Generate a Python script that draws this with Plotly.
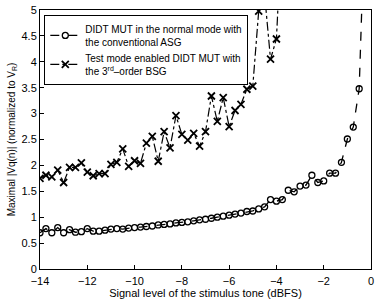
import plotly.graph_objects as go

# Signal level (dBFS)
x_asg = [-14.0, -13.75, -13.5, -13.25, -13.0, -12.75, -12.5, -12.25, -12.0, -11.75,
         -11.5, -11.25, -11.0, -10.75, -10.5, -10.25, -10.0, -9.75, -9.5, -9.25,
         -9.0, -8.75, -8.5, -8.25, -8.0, -7.75, -7.5, -7.25, -7.0, -6.75,
         -6.5, -6.25, -6.0, -5.75, -5.5, -5.25, -5.0, -4.75, -4.5, -4.25,
         -4.0, -3.75, -3.5, -3.25, -3.0, -2.75, -2.5, -2.25, -2.0, -1.75,
         -1.5, -1.25, -1.0, -0.75, -0.5, -0.25]
y_asg = [0.70, 0.78, 0.70, 0.80, 0.70, 0.76, 0.71, 0.72, 0.78, 0.73,
         0.73, 0.75, 0.77, 0.78, 0.77, 0.79, 0.80, 0.81, 0.82, 0.83,
         0.85, 0.86, 0.87, 0.89, 0.90, 0.91, 0.93, 0.95, 0.96, 0.98,
         1.00, 1.02, 1.04, 1.06, 1.08, 1.11, 1.12, 1.16, 1.20, 1.34,
         1.31, 1.34, 1.52, 1.49, 1.60, 1.62, 1.81, 1.67, 1.70, 1.85,
         1.85, 2.06, 2.51, 2.74, 3.48, 7.00]

x_bsg = [-14.0, -13.75, -13.5, -13.25, -13.0, -12.75, -12.5, -12.25, -12.0, -11.75,
         -11.5, -11.25, -11.0, -10.75, -10.5, -10.25, -10.0, -9.75, -9.5, -9.25,
         -9.0, -8.75, -8.5, -8.25, -8.0, -7.75, -7.5, -7.25, -7.0, -6.75,
         -6.5, -6.25, -6.0, -5.75, -5.5, -5.25, -5.0, -4.75, -4.5, -4.25,
         -4.0, -3.75]
y_bsg = [1.75, 1.81, 1.78, 1.91, 1.67, 1.96, 1.96, 2.05, 1.87, 1.80,
         1.84, 1.84, 2.02, 2.06, 2.32, 1.98, 2.09, 2.04, 2.43, 2.56,
         2.08, 2.65, 2.34, 2.96, 2.60, 2.49, 2.62, 2.37, 2.65, 3.34,
         2.85, 3.31, 2.75, 3.06, 3.18, 3.47, 3.53, 4.98, 5.30, 4.05,
         4.44, 6.80]

x_ticks = [-14, -12, -10, -8, -6, -4, -2, 0]
x_tick_text = ["\u221214", "\u221212", "\u221210", "\u22128", "\u22126", "\u22124", "\u22122", "0"]
y_ticks = [0, 0.5, 1, 1.5, 2, 2.5, 3, 3.5, 4, 4.5, 5]
y_tick_text = ["0", "0.5", "1", "1.5", "2", "2.5", "3", "3.5", "4", "4.5", "5"]

FONT = "Liberation Sans, Arial, sans-serif"

fig = go.Figure()
fig.add_trace(go.Scatter(
    x=x_asg, y=y_asg, mode="lines+markers",
    name="DIDT MUT in the normal mode with<br>the conventional ASG",
    line=dict(color="black", width=1.3, dash="dash"),
    marker=dict(symbol="circle-open", size=6, color="black", line=dict(width=1.3)),
))
fig.add_trace(go.Scatter(
    x=x_bsg, y=y_bsg, mode="lines+markers",
    name="Test mode enabled DIDT MUT with<br>the 3<sup>rd</sup>\u2013order BSG",
    line=dict(color="black", width=1.2, dash="dashdot"),
    marker=dict(symbol="x-thin", size=7, color="black", line=dict(width=1.8, color="black")),
))

axis_common = dict(showline=True, linecolor="black", linewidth=1, mirror=True,
                   ticks="inside", ticklen=4, tickcolor="black", showgrid=False,
                   zeroline=False, tickfont=dict(family=FONT, size=11, color="black"))

fig.update_layout(
    width=378, height=300,
    margin=dict(l=40, r=4, t=7, b=28),
    paper_bgcolor="white", plot_bgcolor="white",
    font=dict(family=FONT, size=11, color="black"),
    xaxis=dict(range=[-14, 0], tickvals=x_ticks, ticktext=x_tick_text,
               ticklabelstandoff=2,
               title=dict(text="Signal level of the stimulus tone (dBFS)",
                          font=dict(family=FONT, size=11), standoff=1),
               **axis_common),
    yaxis=dict(range=[0, 5], tickvals=y_ticks, ticktext=y_tick_text,
               title=dict(text="Maximal |Vq(n)| (normalized to V<sub>R</sub>)",
                          font=dict(family=FONT, size=10), standoff=4),
               **axis_common),
    legend=dict(x=0.013, y=0.981, xanchor="left", yanchor="top",
                bgcolor="white", bordercolor="black", borderwidth=1,
                font=dict(family=FONT, size=10), tracegroupgap=0,
                itemwidth=30, entrywidth=0),
    showlegend=True,
)

fig.write_html("out.html")
